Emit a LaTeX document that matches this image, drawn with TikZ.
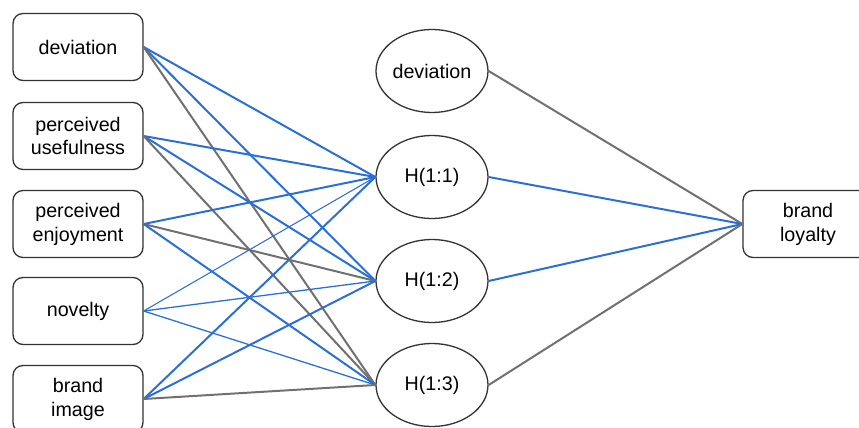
\documentclass[tikz,border=0pt]{standalone}
\usepackage{fontspec}
\setmainfont{Liberation Sans}
\usetikzlibrary{shapes,positioning,calc}
\definecolor{netblue}{RGB}{42,111,214}
\definecolor{netgray}{RGB}{112,112,112}
\tikzstyle{box} = [draw=black!80, rectangle, rounded corners=0.3cm, line width=1.1pt,
    minimum height=2.01cm, minimum width=3.9cm, inner sep=0pt, align=center, text=black]
\tikzstyle{hidden} = [draw=black!80, ellipse, line width=1.1pt,
    minimum height=2.49cm, minimum width=3.36cm, inner sep=0pt, text=black]
\tikzstyle{blueline} = [draw, line width=1.7pt, color=netblue]
\tikzstyle{grayline} = [draw, line width=1.7pt, color=netgray]
\tikzstyle{thinline} = [draw, line width=1.1pt, color=netblue]

\begin{document}
\begin{tikzpicture}[x=0.03cm, y=-0.03cm] \fontsize{16.8}{20.4}\selectfont
    \useasboundingbox (0,0) rectangle (859,428);
    % inputs
    \node at (78,47) [box] (dev) {deviation};
    \node at (78,136) [box] (use) {perceived\\usefulness};
    \node at (78,224) [box] (enj) {perceived\\enjoyment};
    \node at (78,311) [box] (nov) {novelty};
    \node at (78,399) [box] (img) {brand\\image};

    % hidden layer
    \node at (432,71) [hidden] (hdev) {deviation};
    \node at (432,177) [hidden] (h1) {H(1:1)};
    \node at (432,281) [hidden] (h2) {H(1:2)};
    \node at (432,385) [hidden] (h3) {H(1:3)};

    % output
    \node at (808,224) [box] (loy) {brand\\loyalty};

    \draw [blueline] (dev.east) -- (h1.west);
    \draw [blueline] (dev.east) -- (h2.west);
    \draw [grayline] (dev.east) -- (h3.west);

    \draw [blueline] (use.east) -- (h1.west);
    \draw [blueline] (use.east) -- (h2.west);
    \draw [grayline] (use.east) -- (h3.west);

    \draw [blueline] (enj.east) -- (h1.west);
    \draw [grayline] (enj.east) -- (h2.west);
    \draw [blueline] (enj.east) -- (h3.west);

    \draw [thinline, line width=0.9pt] (nov.east) -- (h1.west);
    \draw [thinline] (nov.east) -- (h2.west);
    \draw [thinline] (nov.east) -- (h3.west);

    \draw [blueline] (img.east) -- (h1.west);
    \draw [blueline] (img.east) -- (h2.west);
    \draw [grayline] (img.east) -- (h3.west);

    \draw [grayline] (hdev.east) -- (loy.west);
    \draw [blueline] (h1.east) -- (loy.west);
    \draw [blueline] (h2.east) -- (loy.west);
    \draw [grayline] (h3.east) -- (loy.west);
\end{tikzpicture}
\end{document}
